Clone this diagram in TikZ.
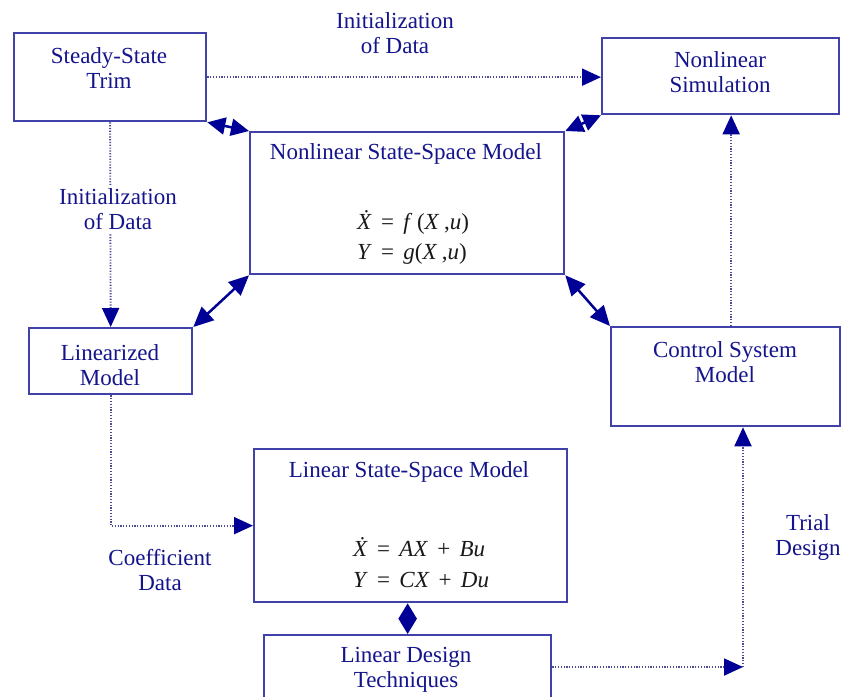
\documentclass[tikz,border=0pt]{standalone}
\usepackage{fontspec}
\setmainfont{Liberation Serif}
\usetikzlibrary{arrows.meta}
\definecolor{boxc}{RGB}{65,65,170}
\definecolor{arrc}{RGB}{0,0,150}
\definecolor{txtc}{RGB}{20,20,140}
\definecolor{dotc}{RGB}{75,75,150}
\definecolor{eqc}{RGB}{25,25,25}
\newcommand\eqsp{\hspace{0.4em}}
\newcommand\eqssp{\hspace{0.2em}}
\begin{document}
\begin{tikzpicture}[x=1pt,y=-1pt,
  box/.style={draw=boxc, line width=2.3pt, inner sep=0pt, anchor=north west},
  txt/.style={text=txtc, align=center, font=\fontsize{23}{25}\selectfont, inner sep=1pt},
  lbl/.style={txt, fill=white, inner sep=4pt},
  eq/.style={text=eqc, anchor=west, font=\fontsize{23}{25}\selectfont, inner sep=0pt},
  solidarr/.style={draw=arrc, line width=2.5pt, <->, >={Triangle[length=20pt,width=18pt]}},
  shortarr/.style={draw=arrc, line width=2.5pt, <->, >={Triangle[length=18pt,width=17pt]}},
  diamarr/.style={draw=arrc, line width=2.5pt, <->, >={Triangle[length=15.5pt,width=18pt]}},
  dotarr/.style={draw=dotc, line width=1.9pt, dash pattern=on 1.2pt off 1.6pt,
    -{Triangle[length=19pt,width=17pt,fill=arrc,color=arrc]}}
]
\useasboundingbox (0,0) rectangle (842,696);
\clip (0,0) rectangle (842,696);
\fill[white] (0,0) rectangle (842,696);

% boxes
\node[box, minimum width=192pt, minimum height=88pt] (sst) at (13,32) {};
\node[box, minimum width=237pt, minimum height=76pt] (nsim) at (601,37) {};
\node[box, minimum width=314pt, minimum height=142pt] (nss) at (249,131) {};
\node[box, minimum width=163pt, minimum height=66pt] (lin) at (28,327) {};
\node[box, minimum width=229pt, minimum height=99pt] (csm) at (610,326) {};
\node[box, minimum width=313pt, minimum height=153pt] (lss) at (253,448) {};
\node[box, minimum width=287pt, minimum height=100pt] (ldt) at (263,634) {};

% box texts
\node[txt] (ssttext) at (109,68.5) {Steady-State\\Trim};
\node[txt] (nsimtext) at (720,72.5) {Nonlinear\\Simulation};
\node[txt] (nsstitle) at (406,154) {Nonlinear State-Space Model};
\node[eq] (nsseqa) at (357,222) {\textit{\.X}\eqsp=\eqsp\textit{f}\eqssp(\textit{X}\eqssp,\textit{u})};
\node[eq] (nsseqb) at (357,254) {\textit{Y}\eqsp=\eqsp\textit{g}(\textit{X}\eqssp,\textit{u})};
\node[txt] (lintext) at (110,365) {Linearized\\Model};
\node[txt] (csmtext) at (725,362.5) {Control System\\Model};
\node[txt] (lsstitle) at (409,472) {Linear State-Space Model};
\node[eq] (lsseqa) at (353,547) {\textit{\.X}\eqsp=\eqsp\textit{AX}\eqsp+\eqsp\textit{Bu}};
\node[eq] (lsseqb) at (353,580) {\textit{Y}\eqsp=\eqsp\textit{CX}\eqsp+\eqsp\textit{Du}};
\node[txt] (ldttext) at (406,670) {Linear Design\\Techniques};

% solid double arrows
\draw[shortarr] (sst.south east) -- (nss.north west);
\draw[shortarr] (nss.north east) -- (nsim.south west);
\draw[solidarr] (nss.south west) -- (lin.north east);
\draw[solidarr] (nss.south east) -- (csm.north west);
\draw[diamarr] (lss.south -| ldt.north) -- (ldt.north);

% dotted arrows
\draw[dotarr] (sst.east) -- (sst.east -| nsim.west);
\draw[dotarr] (sst.south) -- (lin.north);
\draw[dotarr] ([xshift=5.5pt]csm.north) -- ([xshift=5.5pt]csm.north |- nsim.south);
\draw[dotarr] (lin.south) |- (lss.west);
\coordinate (corner) at (743,667);
\draw[dotarr] (ldt.east |- corner) -- (corner);
\draw[dotarr] (corner) -- (corner |- csm.south);

% labels
\node[txt] (lbltop) at (395,33.5) {Initialization\\of Data};
\node[lbl] (lblleft) at (118,209.5) {Initialization\\of Data};
\node[txt] (lblcoef) at (160,570) {Coefficient\\Data};
\node[txt] (lbltrial) at (808,537.5) {Trial\\Design};
\end{tikzpicture}
\end{document}
